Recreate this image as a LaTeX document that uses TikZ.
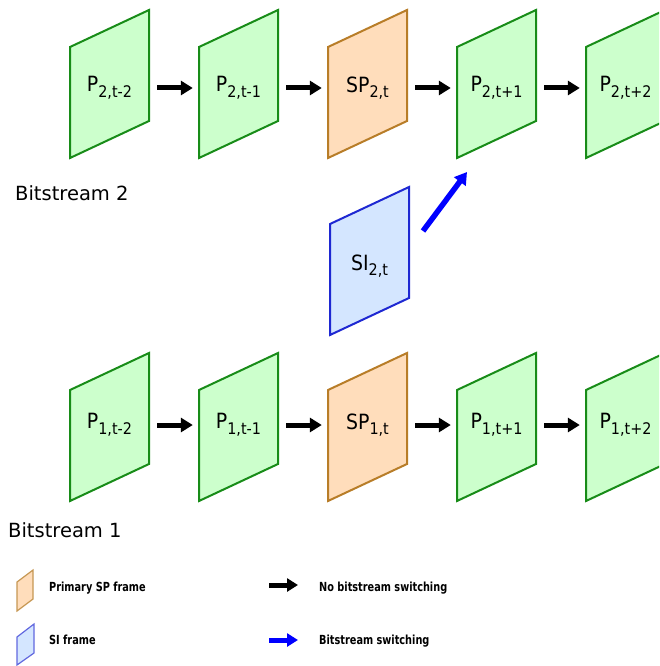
\documentclass[tikz,border=0pt]{standalone}
\usepackage{fontspec}
\setmainfont{DejaVu Sans}
\newfontfamily\legfont[FakeStretch=0.78]{DejaVu Sans}
\newfontfamily\labfont[FakeStretch=0.9]{DejaVu Sans}
\usetikzlibrary{arrows.meta}
\definecolor{gfill}{RGB}{204,255,204}
\definecolor{gline}{RGB}{24,140,24}
\definecolor{ofill}{RGB}{255,221,187}
\definecolor{oline}{RGB}{184,125,40}
\definecolor{bfill}{RGB}{212,230,255}
\definecolor{bline}{RGB}{30,40,210}
\definecolor{arrblue}{RGB}{0,0,255}
\newcommand{\Lab}[2]{{\labfont\fontsize{21}{21}\selectfont #1\raisebox{-5.5pt}{\fontsize{16}{16}\selectfont #2}}}
% name, cx, frame cy, label y, style, label
\newcommand{\Frm}[6]{%
  \filldraw[#5] (#2,#3) ++(-39.5,-37) -- ++(79,-37) -- ++(0,111) -- ++(-79,37) -- cycle;
  \node[lbl] (#1) at (#2,#4) {#6};
}
\begin{document}
\begin{tikzpicture}[x=1pt,y=-1pt,
  lbl/.style={inner sep=0pt, minimum width=79pt, minimum height=20pt},
  gfr/.style={fill=gfill, draw=gline, line width=2pt, line join=miter},
  ofr/.style={fill=ofill, draw=oline, line width=2pt},
  bfr/.style={fill=bfill, draw=bline, line width=2pt},
  ofrl/.style={fill=ofill, draw=oline!80, line width=1.2pt},
  bfrl/.style={fill=bfill, draw=bline!70, line width=1.2pt},
  arr/.style={line width=5pt, -{Triangle[length=12pt,width=14pt]}, shorten <=8pt, shorten >=6pt},
  barr/.style={line width=5.5pt, arrblue, -{Triangle[length=12pt,width=14pt]}},
  larr/.style={line width=5pt, -{Triangle[length=11pt,width=13pt]}},
  bstxt/.style={anchor=base west, inner sep=0pt, font=\fontsize{19.5}{20}\selectfont},
  legtxt/.style={anchor=base west, inner sep=0pt, font=\legfont\bfseries\fontsize{12.5}{13}\selectfont}
]
\useasboundingbox (0,0) rectangle (659,666);
\clip (0,0) rectangle (659,666);

% Bitstream 2 (top row)
\Frm{p2a}{109.5}{84}{88}{gfr}{\Lab{P}{2,t-2}}
\Frm{p2b}{238.5}{84}{88}{gfr}{\Lab{P}{2,t-1}}
\Frm{sp2}{367.5}{84}{88}{ofr}{\Lab{SP}{2,t}}
\Frm{p2c}{496.5}{84}{88}{gfr}{\Lab{P}{2,t+1}}
\Frm{p2d}{625.5}{84}{88}{gfr}{\Lab{P}{2,t+2}}
\draw[arr] (p2a.east) -- (p2b.west);
\draw[arr] (p2b.east) -- (sp2.west);
\draw[arr] (sp2.east) -- (p2c.west);
\draw[arr] (p2c.east) -- (p2d.west);
\node[bstxt] (bs2) at (15,200) {Bitstream 2};

% SI frame
\Frm{si}{369.5}{261}{266}{bfr}{\Lab{SI}{2,t}}
\coordinate (sws) at (423,231);
\coordinate (swe) at (467,172);
\draw[barr] (sws) -- (swe);

% Bitstream 1 (bottom row)
\Frm{p1a}{109.5}{427}{425}{gfr}{\Lab{P}{1,t-2}}
\Frm{p1b}{238.5}{427}{425}{gfr}{\Lab{P}{1,t-1}}
\Frm{sp1}{367.5}{427}{425}{ofr}{\Lab{SP}{1,t}}
\Frm{p1c}{496.5}{427}{425}{gfr}{\Lab{P}{1,t+1}}
\Frm{p1d}{625.5}{427}{425}{gfr}{\Lab{P}{1,t+2}}
\draw[arr] (p1a.east) -- (p1b.west);
\draw[arr] (p1b.east) -- (sp1.west);
\draw[arr] (sp1.east) -- (p1c.west);
\draw[arr] (p1c.east) -- (p1d.west);
\node[bstxt] (bs1) at (8,537) {Bitstream 1};

% Legend
\filldraw[ofrl] (17,582) -- (33,570) -- (33,599) -- (17,611) -- cycle;
\node[legtxt] (lsp) at (49,591) {Primary SP frame};
\filldraw[bfrl] (17,637) -- (34,624) -- (34,653) -- (17,665) -- cycle;
\node[legtxt] (lsi) at (49,644) {SI frame};
\coordinate (la1) at (269,585);
\coordinate (la2) at (298,585);
\draw[larr] (la1) -- (la2);
\node[legtxt] (lno) at (319,591) {No bitstream switching};
\coordinate (lb1) at (269,640);
\coordinate (lb2) at (298,640);
\draw[larr, arrblue] (lb1) -- (lb2);
\node[legtxt] (lbs) at (319,644) {Bitstream switching};
\end{tikzpicture}
\end{document}
